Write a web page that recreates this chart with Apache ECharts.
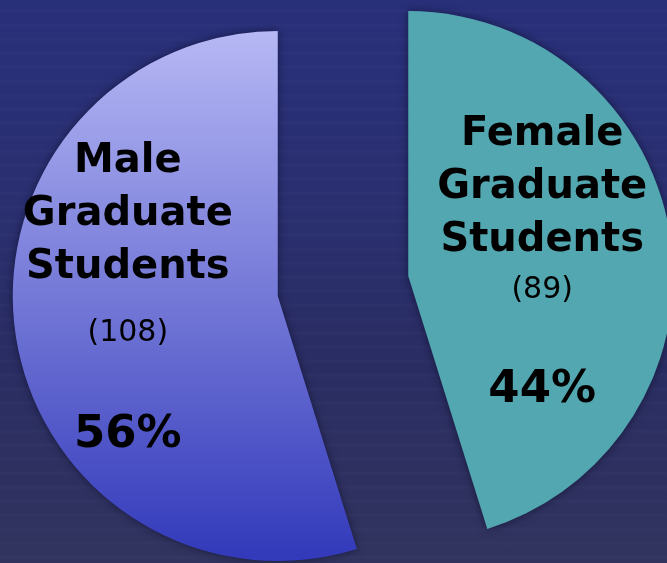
<!DOCTYPE html>
<html>
<head>
<meta charset="utf-8">
<script src="https://cdn.jsdelivr.net/npm/echarts@6/dist/echarts.min.js"></script>
<style>
  html, body { margin: 0; padding: 0; }
  body {
    width: 667px; height: 563px; overflow: hidden;
    background:
      repeating-linear-gradient(180deg, rgba(120,125,180,0) 0px, rgba(120,125,180,0) 9px, rgba(120,125,180,0.05) 11px, rgba(120,125,180,0) 14px),
      linear-gradient(180deg, #29307a 0%, #2a2f70 35%, #2a2d62 65%, #31345e 100%);
  }
  #chart { width: 667px; height: 563px; }
</style>
</head>
<body>
<div id="chart"></div>
<script>
// Graduate students by gender
const categories = ['Female Graduate Students', 'Male Graduate Students'];
const counts = [89, 108];
const shares = ['44%', '56%'];

const chart = echarts.init(document.getElementById('chart'), null, { renderer: 'canvas' });

const fills = [
  '#53a7b0',
  new echarts.graphic.LinearGradient(0, 0, 0, 1, [
    { offset: 0, color: '#b6b8f4' },
    { offset: 1, color: '#3239ba' }
  ])
];

// per-slice label layout (line heights / nudges)
const labelTweaks = [
  { countLH: 47, shareLH: 153, padding: [64, 0, 0, 0] },
  { countLH: 79, shareLH: 125, padding: [0, 32, 0, 0] }
];

const data = categories.map((name, i) => ({
  name: name,
  value: counts[i],
  selected: true,
  itemStyle: { color: fills[i] },
  label: {
    padding: labelTweaks[i].padding,
    formatter: () => name.split(' ').map(w => '{t|' + w + '}').join('\n') +
      '\n{c|(' + counts[i] + ')}\n{p|' + shares[i] + '}',
    rich: {
      t: { fontFamily: 'DejaVu Sans', fontWeight: 'bold', fontSize: 40, lineHeight: 53, color: '#000' },
      c: { fontFamily: 'DejaVu Sans', fontWeight: 'normal', fontSize: 30, lineHeight: labelTweaks[i].countLH, color: '#000' },
      p: { fontFamily: 'DejaVu Sans', fontWeight: 'bold', fontSize: 45, lineHeight: labelTweaks[i].shareLH, color: '#000' }
    }
  }
}));

chart.setOption({
  animation: false,
  series: [{
    type: 'pie',
    center: [343, 286],
    radius: [0, 265],
    startAngle: 90,
    clockwise: true,
    selectedMode: 'multiple',
    selectedOffset: 66,
    avoidLabelOverlap: false,
    emphasis: { disabled: true },
    itemStyle: {
      borderWidth: 0,
      shadowBlur: 8,
      shadowColor: 'rgba(5, 5, 30, 0.55)'
    },
    label: {
      show: true,
      position: 'inside',
      align: 'center'
    },
    labelLine: { show: false },
    data: data
  }]
});
</script>
</body>
</html>
